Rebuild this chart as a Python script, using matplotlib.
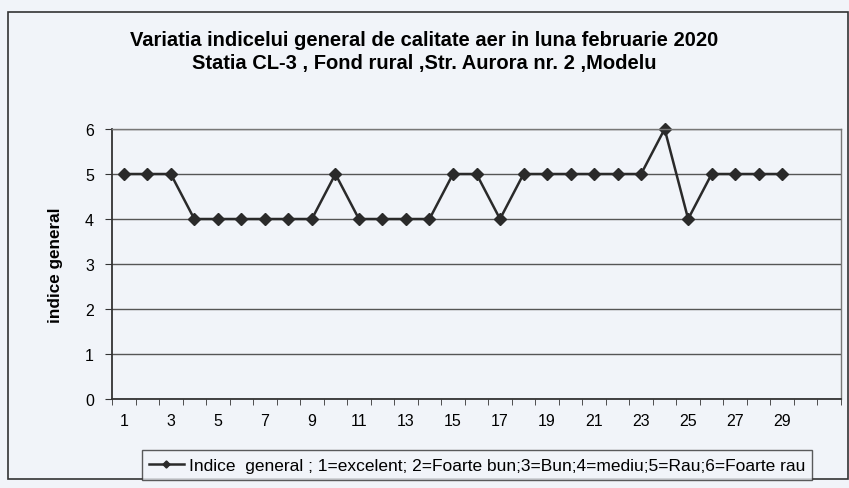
import matplotlib
matplotlib.use("Agg")
import matplotlib.pyplot as plt
from matplotlib.patches import Rectangle

days = list(range(1, 30))
indice = [5, 5, 5, 4, 4, 4, 4, 4, 4, 5, 4, 4, 4, 4, 5, 5, 4, 5, 5, 5,
          5, 5, 5, 6, 4, 5, 5, 5, 5]
xlabels = [str(d) for d in range(1, 30, 2)]
n_cat = 31

plt.rcParams["font.family"] = ["Liberation Sans", "DejaVu Sans"]
bg = "#f1f4f9"
fig = plt.figure(figsize=(8.49, 4.89), dpi=100, facecolor=bg)
fig.patches.append(Rectangle((8/849, 1-480/489), 840/849, 467/489, transform=fig.transFigure,
                             fill=False, ec="#333", lw=1.2))
ax = fig.add_axes([112/849, 1-400/489, 729/849, 270/489], facecolor=bg)

ax.plot(days, indice, color="#2a2a2a", lw=1.8, marker="D", ms=6, mfc="#2a2a2a", mec="#2a2a2a",
        clip_on=False,
        label="Indice  general ; 1=excelent; 2=Foarte bun;3=Bun;4=mediu;5=Rau;6=Foarte rau")
ax.set_xlim(0.5, n_cat + 0.5); ax.set_ylim(0, 6)
ax.set_yticks(range(0, 7))
ax.yaxis.grid(True, color="#555", lw=1.0); ax.set_axisbelow(True)
ax.set_xticks(range(1, 30, 2)); ax.set_xticklabels(xlabels)
ax.set_xticks([i + 0.5 for i in range(0, n_cat + 1)], minor=True)
ax.tick_params(axis="x", which="major", length=0, pad=10, labelsize=11.5)
ax.tick_params(axis="x", which="minor", length=4, direction="out", color="#333")
ax.tick_params(axis="y", length=5, direction="out", labelsize=11.5, color="#333", pad=8)
for s in ["left", "bottom"]:
    ax.spines[s].set_color("#333"); ax.spines[s].set_linewidth(1.3)
for s in ["top", "right"]:
    ax.spines[s].set_color("#777"); ax.spines[s].set_linewidth(1.0)
ax.set_ylabel("indice general", fontweight="bold", fontsize=12.3, labelpad=16)

fig.text(0.5, 1-41/489, "Variatia indicelui general de calitate aer in luna februarie 2020",
         ha="center", va="center", fontsize=14.5, fontweight="bold")
fig.text(0.5, 1-64/489, "Statia CL-3 , Fond rural ,Str. Aurora nr. 2 ,Modelu",
         ha="center", va="center", fontsize=14.5, fontweight="bold")

leg = fig.legend(loc="center", bbox_to_anchor=(477/849, 1-466/489), fontsize=12.5,
                 frameon=True, fancybox=False, edgecolor="#333", facecolor=bg,
                 handlelength=2.0, handletextpad=0.3, markerscale=0.6, borderpad=0.4)
leg.get_frame().set_linewidth(1.0)

plt.savefig("out.png", dpi=100, facecolor=bg)
